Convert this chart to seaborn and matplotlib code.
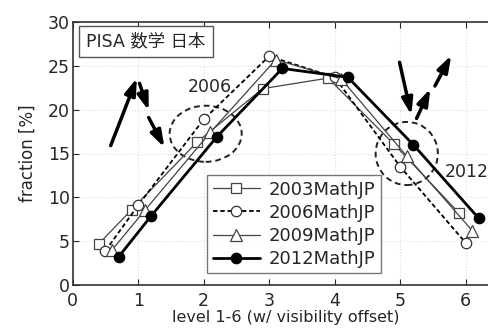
import matplotlib
matplotlib.use("Agg")
import matplotlib.pyplot as plt
from matplotlib.patches import Ellipse
import seaborn as sns
import numpy as np
import pandas as pd

sns.set_style("white")
plt.rcParams['font.family'] = ['DejaVu Sans', 'Noto Sans CJK JP']

# data
level_pos = [0.5, 1, 2, 3, 4, 5, 6]
series_names = ["2003MathJP", "2006MathJP", "2009MathJP", "2012MathJP"]
offsets = [-0.1, 0.0, 0.1, 0.2]
math2003 = [4.7, 8.6, 16.3, 22.4, 23.6, 16.1, 8.2]
math2006 = [3.9, 9.1, 18.9, 26.1, 23.7, 13.5, 4.8]
math2009 = [4.0, 8.5, 17.4, 25.7, 23.5, 14.7, 6.2]
math2012 = [3.2, 7.9, 16.9, 24.7, 23.7, 16.0, 7.6]
values = [math2003, math2006, math2009, math2012]

styles = [
    dict(marker='s', linestyle='-', color='#444444', lw=0.9, mfc='white', mec='#444444', ms=7.5),
    dict(marker='o', linestyle=(0, (2.5, 1.5)), color='black', lw=1.3, mfc='white', mec='#333333', ms=7.5),
    dict(marker='^', linestyle='-', color='#444444', lw=0.9, mfc='white', mec='#444444', ms=8.5),
    dict(marker='o', linestyle='-', color='black', lw=2.0, mfc='black', mec='black', ms=7.5),
]

W, H = 489, 333
fig = plt.figure(figsize=(W / 100, H / 100), dpi=100)
x0, y0 = 72.7, 285.0
pxu = 65.5
xmax = 6.5
ax = fig.add_axes([x0 / W, (H - y0) / H, xmax * pxu / W, 263 / H])

for name, off, vals, st in zip(series_names, offsets, values, styles):
    df = pd.DataFrame({"x": np.array(level_pos) + off, "y": vals})
    sns.lineplot(data=df, x="x", y="y", ax=ax, sort=False, label=name,
                 color=st['color'], linestyle=st['linestyle'], linewidth=st['lw'],
                 marker=st['marker'], markersize=st['ms'],
                 markerfacecolor=st['mfc'], markeredgecolor=st['mec'],
                 markeredgewidth=0.9)

ax.set_xlim(0, xmax)
ax.set_ylim(0, 30)
ax.set_xticks(range(0, 7))
ax.set_yticks(range(0, 31, 5))
ax.grid(True, color='#dddddd', linestyle=':', linewidth=0.8)
ax.tick_params(direction='in', length=4, labelsize=12.5, top=True, left=True, bottom=True)
ax.tick_params(axis='x', pad=5)
ax.tick_params(axis='y', pad=2)
for s in ['left', 'bottom', 'top']:
    ax.spines[s].set_color('#333333')
    ax.spines[s].set_linewidth(1.2)
ax.spines['right'].set_visible(False)
ax.set_xlabel("level 1-6 (w/ visibility offset)", fontsize=11.5, labelpad=0)
ax.set_ylabel("fraction [%]", fontsize=12, labelpad=8)

leg = ax.legend(loc='lower left', bbox_to_anchor=((207.3 - x0) / (xmax * pxu), (y0 - 273.3) / 263),
                fontsize=13, handlelength=2.6, handletextpad=0.5, labelspacing=0.28,
                frameon=True, fancybox=False, borderpad=0.3, borderaxespad=0)
leg.get_frame().set_edgecolor('#555555')
leg.get_frame().set_linewidth(1.0)

ax.text(0.032, 0.96, "PISA 数学 日本", transform=ax.transAxes, fontsize=12.5,
        va='top', ha='left',
        bbox=dict(boxstyle='square,pad=0.4', fc='white', ec='#555555', lw=1.0))

ax.add_patch(Ellipse((2.03, 17.25), 1.1, 6.4, fill=False, ls=(0, (3, 2)), lw=1.4, ec='#222222'))
ax.add_patch(Ellipse((5.1, 15.0), 0.95, 7.2, fill=False, ls=(0, (3, 2)), lw=1.4, ec='#222222'))
ax.text(2.09, 22.6, "2006", fontsize=12.5, ha='center', va='center')
ax.text(6.02, 12.9, "2012", fontsize=12.5, ha='center', va='center')

arrows = [((0.58, 15.9), (0.98, 23.6)),
          ((1.02, 23.0), (1.16, 19.9)),
          ((1.16, 19.1), (1.40, 15.7)),
          ((4.99, 25.4), (5.17, 19.4)),
          ((5.25, 19.0), (5.46, 22.4)),
          ((5.53, 22.7), (5.78, 26.2))]
for (sx, sy), (ex, ey) in arrows:
    ax.annotate("", xy=(ex, ey), xytext=(sx, sy),
                arrowprops=dict(arrowstyle='-|>,head_length=0.9,head_width=0.3',
                                mutation_scale=11,
                                lw=2.5, color='black', shrinkA=0, shrinkB=0))

fig.savefig("out.png", dpi=100)
